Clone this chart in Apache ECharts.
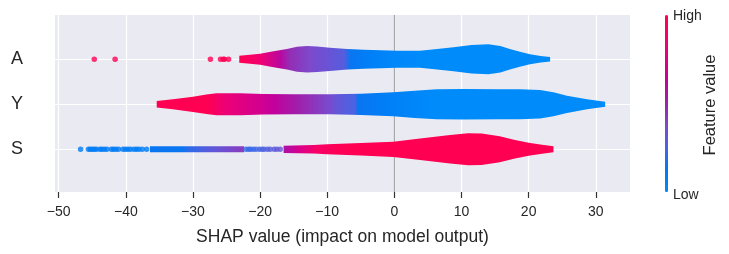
<!DOCTYPE html>
<html><head><meta charset="utf-8">
<script src="https://cdn.jsdelivr.net/npm/echarts@6/dist/echarts.min.js"></script>
<style>html,body{margin:0;padding:0;background:#fff}#c{width:729px;height:254px}</style>
</head><body><div id="c"></div>
<script>
// rows bottom -> top
const features = ['S', 'Y', 'A'];
const xTicks = [-50, -40, -30, -20, -10, 0, 10, 20, 30];
const xLabel = 'SHAP value (impact on model output)';
const cbHigh = 'High', cbLow = 'Low', cbTitle = 'Feature value';

// feature A (row 2)
const aShapeX = [-23.1, -21.5, -20, -18, -16, -14.5, -13, -11.5, -9.6, -7, -4.6, -2, 0.35, 3.8, 6, 8.8, 11.5, 14, 15.8, 17.2, 18.7, 20.2, 21.8, 23.2];
const aHalfW  = [0.078, 0.1, 0.122, 0.178, 0.229, 0.278, 0.295, 0.285, 0.258, 0.229, 0.213, 0.2, 0.19, 0.19, 0.222, 0.267, 0.318, 0.333, 0.295, 0.229, 0.167, 0.111, 0.073, 0.051];
const aColorX = [-23.1, -21.5, -20, -17, -15.6, -12.6, -9.6, -7.5, -6.6, -3.6, 0.35, 5, 23.2];
const aColorV = [1.0, 0.93, 0.85, 0.6, 0.47, 0.375, 0.32, 0.28, 0.14, 0.07, 0.02, 0, 0];
const aDotX = [-44.7, -41.6, -27.4, -25.9, -25.5, -25.3, -24.7];
const aDotV = [1, 1, 1, 1, 1, 1, 1];

// feature Y (row 1)
const yShapeX = [-35.4, -33, -30, -28, -26.5, -23, -19.5, -15, -9.6, -5, -0.15, 3, 6.3, 10.3, 15.7, 18.7, 21.7, 23.7, 25.7, 28.7, 31.4];
const yHalfW  = [0.071, 0.111, 0.169, 0.218, 0.244, 0.244, 0.229, 0.222, 0.222, 0.236, 0.267, 0.302, 0.333, 0.34, 0.333, 0.333, 0.318, 0.267, 0.191, 0.111, 0.056];
const yColorX = [-35.4, -28, -25, -19.5, -18, -14.5, -11.6, -9.6, -8.1, -5.9, -5.4, -1.1, 3.8, 6, 31.4];
const yColorV = [1, 1, 0.82, 0.68, 0.63, 0.52, 0.43, 0.36, 0.3, 0.25, 0.14, 0.08, 0.02, 0, 0];

// feature S (row 0)
const sShapeX = [-16.5, -12, -10, -5, -0.15, 3.2, 8.3, 11, 13, 15.7, 17.8, 20, 22, 23.7];
const sHalfW  = [0.08, 0.095, 0.111, 0.14, 0.169, 0.229, 0.318, 0.356, 0.35, 0.29, 0.21, 0.144, 0.1, 0.067];
const sColorX = [-16.5, -16, -14.1, -11.6, -8.6, -5, 23.7];
const sColorV = [0.56, 0.58, 0.72, 0.9, 0.98, 1, 1];
const sBarX = [-36.4, -31.7, -30.6, -27.2, -22.4];
const sBarW = [0.067, 0.067, 0.067, 0.067, 0.067];
const sBarColorX = [-36.4, -31.7, -30.6, -27.2, -22.7, -22.4];
const sBarColorV = [0.14, 0.14, 0.2, 0.3, 0.42, 0.43];
const sDotX = [-46.74, -45.57, -45.28, -44.98, -44.68, -44.38, -43.86, -43.56, -43.19, -42.82, -42.15, -41.85, -41.48, -41.10, -40.43, -40.06, -39.69, -39.31, -38.79, -38.42, -38.05, -37.56, -36.90,
  -22.1, -21.7, -21.4, -21.0, -20.6, -20.1, -19.7, -19.4, -18.9, -18.5, -17.9, -17.5, -17.0];
const sDotV = [0.1, 0.1, 0.1, 0.1, 0.1, 0.1, 0.1, 0.1, 0.1, 0.1, 0.1, 0.1, 0.1, 0.1, 0.1, 0.1, 0.1, 0.1, 0.1, 0.1, 0.1, 0.1, 0.1,
  0.2, 0.21, 0.22, 0.22, 0.23, 0.24, 0.25, 0.26, 0.27, 0.28, 0.3, 0.31, 0.32];

// shap red_blue colormap (low -> high)
const CMAP = ['#008bfb', '#0078f3', '#4a63e3', '#7d49cc', '#9b24ad', '#c2009c', '#e00086', '#f5006c', '#ff0052'];

function hex(c) { return [1, 3, 5].map(i => parseInt(c.substr(i, 2), 16)); }
function cmap(v) {
  v = Math.max(0, Math.min(1, v));
  const t = v * (CMAP.length - 1), i = Math.min(CMAP.length - 2, Math.floor(t)), f = t - i;
  const a = hex(CMAP[i]), b = hex(CMAP[i + 1]);
  return 'rgb(' + a.map((x, k) => Math.round(x + (b[k] - x) * f)).join(',') + ')';
}

const pieces = [
  { row: 2, xs: aShapeX, ws: aHalfW, cx: aColorX, cv: aColorV },
  { row: 1, xs: yShapeX, ws: yHalfW, cx: yColorX, cv: yColorV },
  { row: 0, xs: sShapeX, ws: sHalfW, cx: sColorX, cv: sColorV },
  { row: 0, xs: sBarX, ws: sBarW, cx: sBarColorX, cv: sBarColorV }
];

const dots = [];
aDotX.forEach((x, i) => dots.push([x, 2, aDotV[i]]));
sDotX.forEach((x, i) => dots.push([x, 0, sDotV[i]]));

const FONT = 'Liberation Sans';
const TXT = '#262626';
const chart = echarts.init(document.getElementById('c'), null, { renderer: 'canvas' });
chart.setOption({
  animation: false,
  textStyle: { fontFamily: FONT },
  grid: { left: 55, right: 99, top: 15, bottom: 62, show: true, backgroundColor: '#eaeaf2', borderWidth: 0 },
  xAxis: {
    type: 'value', min: -50.55, max: 35.1,
    name: xLabel, nameLocation: 'middle', nameGap: 36,
    nameTextStyle: { fontSize: 17.5, color: TXT, fontFamily: FONT },
    axisLine: { show: false, onZero: false },
    axisTick: { show: true, length: 6, lineStyle: { color: '#333', width: 1.2 }, customValues: xTicks },
    axisLabel: { customValues: xTicks, fontSize: 14, color: TXT, margin: 13, fontFamily: FONT,
      formatter: v => (v < 0 ? '\u2212' + Math.abs(v) : String(v)) },
    splitLine: { show: true, lineStyle: { color: '#ffffff', width: 1.2 } }
  },
  yAxis: {
    type: 'value', min: -0.949, max: 2.984,
    axisLine: { show: false, onZero: false },
    axisTick: { show: false, customValues: [0, 1, 2] },
    axisLabel: { customValues: [0, 1, 2], fontSize: 18, color: TXT, margin: 32, fontFamily: FONT,
      formatter: v => features[Math.round(v)] },
    splitLine: { show: true, lineStyle: { color: '#ffffff', width: 1.2 } }
  },
  visualMap: {
    type: 'continuous', min: 0, max: 1, dimension: 2, seriesIndex: 2,
    inRange: { color: CMAP }, orient: 'vertical', left: 665, top: 15,
    itemWidth: 3, itemHeight: 177, padding: 0, calculable: false, text: null,
    hoverLink: false
  },
  graphic: [
    { type: 'text', left: 673, top: 9, style: { text: cbHigh, fontSize: 14, fill: TXT, fontFamily: FONT } },
    { type: 'text', left: 673, top: 188, style: { text: cbLow, fontSize: 14, fill: TXT, fontFamily: FONT } },
    { type: 'text', x: 710, y: 105, rotation: Math.PI / 2,
      style: { text: cbTitle, fontSize: 16.5, fill: TXT, fontFamily: FONT, align: 'center', verticalAlign: 'middle' } }
  ],
  series: [
    {
      type: 'line', z: 1, silent: true, symbol: 'none',
      data: [[0, -0.949], [0, 2.984]],
      lineStyle: { color: '#999999', width: 1 }
    },
    {
      type: 'custom', z: 2, silent: true,
      data: pieces.map((p, i) => [i]),
      encode: { x: [], y: [] },
      renderItem: function (params, api) {
        const p = pieces[params.dataIndex];
        const n = p.xs.length;
        const pts = [];
        for (let i = 0; i < n; i++) pts.push(api.coord([p.xs[i], p.row + p.ws[i]]));
        for (let i = n - 1; i >= 0; i--) pts.push(api.coord([p.xs[i], p.row - p.ws[i]]));
        const x0 = api.coord([p.xs[0], 0])[0], x1 = api.coord([p.xs[n - 1], 0])[0];
        const span = p.xs[n - 1] - p.xs[0];
        const stops = p.cx.map((x, i) => ({ offset: Math.max(0, Math.min(1, (x - p.xs[0]) / span)), color: cmap(p.cv[i]) }));
        return {
          type: 'polygon',
          shape: { points: pts },
          style: { fill: new echarts.graphic.LinearGradient(x0, 0, x1, 0, stops, true), stroke: null }
        };
      }
    },
    {
      type: 'scatter', z: 3, silent: true, symbolSize: 5.5,
      data: dots
    }
  ]
});
</script></body></html>
